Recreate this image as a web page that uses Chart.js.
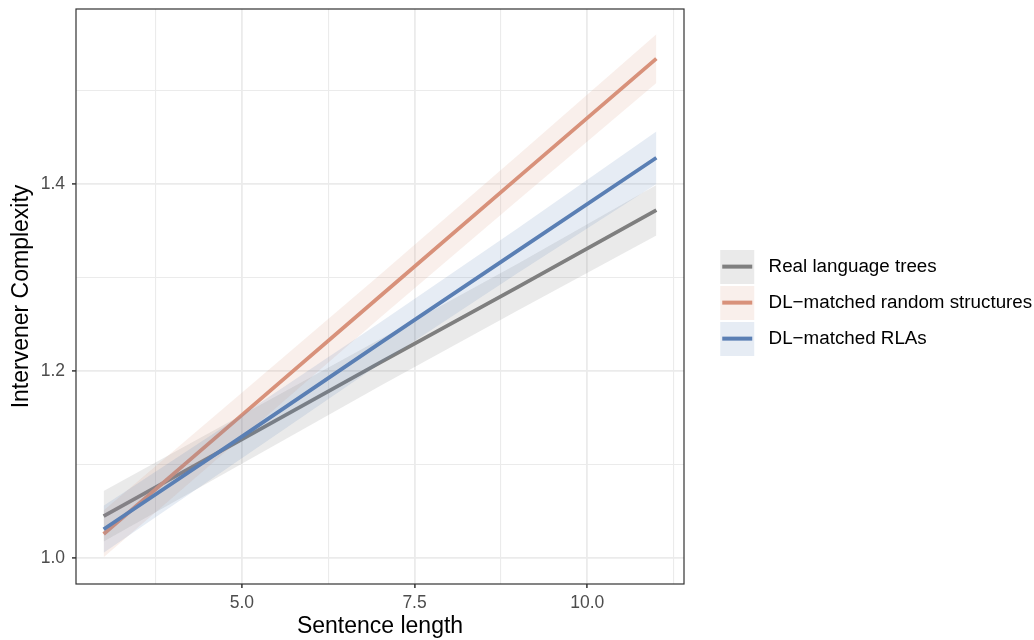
<!DOCTYPE html>
<html>
<head>
<meta charset="utf-8">
<script src="https://cdn.jsdelivr.net/npm/chart.js@4.4.1/dist/chart.umd.min.js"></script>
<style>
  html, body { margin: 0; padding: 0; background: #ffffff; }
  #wrap { width: 1034px; height: 640px; position: relative; }
</style>
</head>
<body>
<div id="wrap"><canvas id="c" width="1034" height="640"></canvas></div>
<script>
// ---- data ----
const sentenceLength = [3, 5, 7, 9, 11];

const seriesNames = ['Real language trees', 'DL\u2212matched random structures', 'DL\u2212matched RLAs'];

const realFit   = [1.045, 1.127, 1.209, 1.290, 1.372];
const realLower = [1.018, 1.101, 1.184, 1.265, 1.345];
const realUpper = [1.072, 1.153, 1.234, 1.315, 1.399];

const randFit   = [1.026, 1.153, 1.280, 1.407, 1.534];
const randLower = [1.001, 1.129, 1.257, 1.383, 1.508];
const randUpper = [1.051, 1.177, 1.303, 1.431, 1.560];

const rlaFit    = [1.031, 1.130, 1.230, 1.329, 1.428];
const rlaLower  = [1.006, 1.107, 1.208, 1.305, 1.400];
const rlaUpper  = [1.056, 1.153, 1.252, 1.353, 1.456];

const xMajorTicks = [5, 7.5, 10];
const xMinorTicks = [3.75, 6.25, 8.75, 11.25];
const yMajorTicks = [1.0, 1.2, 1.4];
const yMinorTicks = [1.1, 1.3, 1.5];

const xTitle = 'Sentence length';
const yTitle = 'Intervener Complexity';

// ---- styles ----
const lineColors = ['#7f7f7f', '#d8917a', '#5a7fb4'];
const bandColors = ['rgba(127,127,127,0.16)', 'rgba(216,145,122,0.15)', 'rgba(90,127,180,0.15)'];
const FONT = "'Liberation Sans', Arial, Helvetica, sans-serif";
Chart.defaults.font.family = FONT;

function pts(ys) { return sentenceLength.map((x, i) => ({x: x, y: ys[i]})); }

function makeKey(lineCol, bandCol) {
  const W = 58, H = 34;
  const cv = document.createElement('canvas');
  cv.width = W; cv.height = H;
  const g = cv.getContext('2d');
  const kl = W - 5 - 34;
  g.fillStyle = '#ffffff';
  g.fillRect(kl, 0, 34, 34);
  g.fillStyle = bandCol;
  g.fillRect(kl, 0, 34, 34);
  g.fillStyle = lineCol;
  g.fillRect(kl + 2, 15, 30, 4);
  return cv;
}
const keys = [0, 1, 2].map(i => makeKey(lineColors[i], bandColors[i]));

const fits = [realFit, randFit, rlaFit];
const lowers = [realLower, randLower, rlaLower];
const uppers = [realUpper, randUpper, rlaUpper];

const datasets = [];
for (let s = 0; s < 3; s++) {
  const base = datasets.length;
  const ord = (2 - s) * 2; // later series drawn on top
  datasets.push({
    label: '_band_upper_' + s, data: pts(uppers[s]), borderWidth: 0, pointRadius: 0,
    borderColor: 'rgba(0,0,0,0)', backgroundColor: bandColors[s], fill: false, order: ord + 1
  });
  datasets.push({
    label: '_band_lower_' + s, data: pts(lowers[s]), borderWidth: 0, pointRadius: 0,
    borderColor: 'rgba(0,0,0,0)', backgroundColor: bandColors[s], fill: {target: base}, order: ord + 1
  });
  datasets.push({
    label: seriesNames[s], data: pts(fits[s]), borderColor: lineColors[s], backgroundColor: lineColors[s],
    borderWidth: 3.8, pointRadius: 0, fill: false, order: ord, pointStyle: keys[s], tension: 0
  });
}

const isMajor = (arr, v) => arr.some(m => Math.abs(m - v) < 1e-9);

const panelBorder = {
  id: 'panelBorder',
  beforeUpdate(chart) {
    const lg = chart.legend;
    if (lg && !lg._fixedWidth) {
      const f = lg.fit;
      lg.fit = function () { f.call(this); this.width = 350; };
      lg._fixedWidth = true;
    }
  },
  afterLayout(chart) {
    const lg = chart.legend;
    if (lg) { const h = lg.bottom - lg.top; lg.top = 240; lg.bottom = 240 + h; }
  },
  afterDraw(chart) {
    const a = chart.chartArea, ctx = chart.ctx;
    ctx.save();
    ctx.strokeStyle = '#333333';
    ctx.lineWidth = 1.2;
    ctx.strokeRect(a.left, a.top, a.right - a.left, a.bottom - a.top);
    ctx.restore();
  }
};

new Chart(document.getElementById('c'), {
  type: 'line',
  data: { datasets: datasets },
  options: {
    responsive: false,
    animation: false,
    layout: { padding: { top: 9, left: 0, right: 0, bottom: 0 } },
    plugins: {
      tooltip: { enabled: false },
      legend: {
        position: 'right',
        align: 'start',
        labels: {
          filter: item => !item.text.startsWith('_band'),
          sort: (a, b) => a.datasetIndex - b.datasetIndex,
          usePointStyle: true,
          pointStyleWidth: 58,
          padding: 17.2,
          color: '#000000',
          font: { size: 18.8, family: FONT }
        }
      }
    },
    scales: {
      x: {
        type: 'linear',
        min: 2.6, max: 11.4,
        afterFit: s => { s.height = 56; s.paddingLeft = 0; s.paddingRight = 0; },
        afterBuildTicks: s => { s.ticks = xMinorTicks.concat(xMajorTicks).sort((a, b) => a - b).map(v => ({value: v})); },
        ticks: {
          autoSkip: false, maxRotation: 0, padding: 5, color: '#4d4d4d',
          font: { size: 17.5 },
          callback: v => isMajor(xMajorTicks, v) ? v.toFixed(1) : ''
        },
        grid: {
          color: '#ebebeb',
          lineWidth: c => isMajor(xMajorTicks, c.tick.value) ? 1.8 : 1.1,
          tickLength: 4,
          tickColor: c => isMajor(xMajorTicks, c.tick.value) ? '#333333' : 'rgba(0,0,0,0)',
          tickWidth: 1.5
        },
        border: { display: false },
        title: { display: true, text: xTitle, color: '#000000', font: { size: 23 }, padding: { top: 0, bottom: 0 } }
      },
      y: {
        type: 'linear',
        min: 0.9725, max: 1.587,
        afterFit: s => { s.width = 76; s.paddingTop = 0; s.paddingBottom = 0; },
        afterBuildTicks: s => { s.ticks = yMinorTicks.concat(yMajorTicks).sort((a, b) => a - b).map(v => ({value: v})); },
        ticks: {
          autoSkip: false, padding: 7, color: '#4d4d4d',
          font: { size: 17.5 },
          callback: v => isMajor(yMajorTicks, v) ? v.toFixed(1) : ''
        },
        grid: {
          color: '#ebebeb',
          lineWidth: c => isMajor(yMajorTicks, c.tick.value) ? 1.8 : 1.1,
          tickLength: 4,
          tickColor: c => isMajor(yMajorTicks, c.tick.value) ? '#333333' : 'rgba(0,0,0,0)',
          tickWidth: 1.5
        },
        border: { display: false },
        title: { display: true, text: yTitle, color: '#000000', font: { size: 23 }, padding: { top: 8, bottom: 0 } }
      }
    }
  },
  plugins: [panelBorder]
});
</script>
</body>
</html>
